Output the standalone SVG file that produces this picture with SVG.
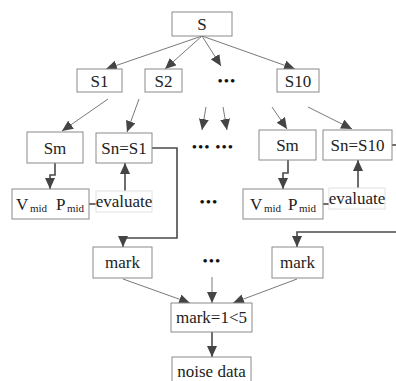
<svg xmlns="http://www.w3.org/2000/svg" width="396" height="381" viewBox="0 0 396 381">
<style>
.b{fill:#fff;stroke:#8a8a8a;stroke-width:1}
.e{fill:#fff;stroke:#e2e2e2;stroke-width:1}
.t{font-family:"Liberation Serif","Times New Roman","DejaVu Serif",serif;font-size:17px;fill:#222;text-anchor:middle}
.v{font-family:"Liberation Serif","Times New Roman","DejaVu Serif",serif;font-size:17px;fill:#222}
.s{font-size:11px}
.d{font-family:"Liberation Serif","DejaVu Serif",serif;font-size:15px;fill:#111;text-anchor:middle;letter-spacing:1px}
.l{fill:none;stroke:#6a6a6a;stroke-width:0.9}
.k{fill:none;stroke:#4a4a4a;stroke-width:1.6}
</style>
<defs>
<marker id="a" markerUnits="userSpaceOnUse" markerWidth="12" markerHeight="10" refX="11" refY="5" orient="auto">
<path d="M0,0 L11,5 L0,10 z" fill="#444"/>
</marker>
</defs>
<rect width="396" height="381" fill="#fff"/>
<g id="connectors">
<line class="l" x1="202" y1="36" x2="106" y2="69" marker-end="url(#a)"/>
<line class="l" x1="202" y1="36" x2="165" y2="69" marker-end="url(#a)"/>
<line class="l" x1="202" y1="36" x2="221" y2="66" marker-end="url(#a)"/>
<line class="l" x1="202" y1="36" x2="295" y2="69" marker-end="url(#a)"/>
<line class="l" x1="108" y1="99" x2="62" y2="131" marker-end="url(#a)"/>
<line class="l" x1="139" y1="99" x2="127" y2="132" marker-end="url(#a)"/>
<line class="l" x1="206" y1="107" x2="202" y2="130" marker-end="url(#a)"/>
<line class="l" x1="223" y1="107" x2="227" y2="130" marker-end="url(#a)"/>
<line class="l" x1="272" y1="107" x2="287" y2="129" marker-end="url(#a)"/>
<line class="l" x1="308" y1="107" x2="352" y2="129" marker-end="url(#a)"/>
<polyline class="k" points="55,163 55,175 50,175 50,189" marker-end="url(#a)"/>
<line class="k" x1="89" y1="204" x2="96" y2="204"/>
<line class="k" x1="125" y1="191" x2="125" y2="163" marker-end="url(#a)"/>
<polyline class="k" points="152,148 177,148 177,238 123,238 123,247" marker-end="url(#a)"/>
<polyline class="k" points="288,160 288,173 283,173 283,189" marker-end="url(#a)"/>
<line class="k" x1="323" y1="204" x2="329" y2="204"/>
<line class="k" x1="358" y1="188" x2="358" y2="160" marker-end="url(#a)"/>
<line class="k" x1="392" y1="145" x2="396" y2="145"/>
<polyline class="k" points="396,232 297,232 297,247" marker-end="url(#a)"/>
<line class="l" x1="123" y1="279" x2="190" y2="303" marker-end="url(#a)"/>
<line class="l" x1="212" y1="277" x2="212" y2="303" marker-end="url(#a)"/>
<line class="l" x1="297" y1="279" x2="233" y2="303" marker-end="url(#a)"/>
<line class="k" x1="212" y1="332" x2="212" y2="357" marker-end="url(#a)"/>
</g>
<g id="S"><rect class="b" x="172" y="12" width="60" height="24"/><text class="t" x="202" y="30">S</text></g>
<g id="S1"><rect class="b" x="77" y="69" width="45" height="23"/><text class="t" x="99.5" y="86.5">S1</text></g>
<g id="S2"><rect class="b" x="145" y="69" width="37" height="23"/><text class="t" x="163.5" y="86.5">S2</text></g>
<g id="dots1"><text class="d" x="227" y="86">•••</text></g>
<g id="S10"><rect class="b" x="277" y="69" width="42" height="23"/><text class="t" x="298" y="86.5">S10</text></g>
<g id="Sm1"><rect class="b" x="27" y="132" width="56" height="31"/><text class="t" x="55" y="153.5">Sm</text></g>
<g id="Sn1"><rect class="b" x="96" y="133" width="56" height="30"/><text class="t" x="124" y="153.5">Sn=S1</text></g>
<g id="dots2"><text class="d" x="213" y="152">••• •••</text></g>
<g id="Sm2"><rect class="b" x="259" y="130" width="57" height="30"/><text class="t" x="287.5" y="151">Sm</text></g>
<g id="Sn10"><rect class="b" x="323" y="130" width="69" height="30"/><text class="t" x="357.5" y="151">Sn=S10</text></g>
<g id="V1"><rect class="b" x="12" y="189" width="77" height="30"/><text class="v" x="16" y="210">V<tspan class="s" x="30" dy="2">mid</tspan><tspan x="56" dy="-2">P</tspan><tspan class="s" x="67" dy="2">mid</tspan></text></g>
<g id="eval1"><rect class="e" x="96" y="191" width="56" height="21"/><text class="t" x="124" y="207">evaluate</text></g>
<g id="dots3"><text class="d" x="209" y="207">•••</text></g>
<g id="V2"><rect class="b" x="243" y="189" width="80" height="30"/><text class="v" x="250" y="210">V<tspan class="s" x="264" dy="2">mid</tspan><tspan x="288" dy="-2">P</tspan><tspan class="s" x="299" dy="2">mid</tspan></text></g>
<g id="eval2"><rect class="e" x="329" y="188" width="56" height="21"/><text class="t" x="357" y="204">evaluate</text></g>
<g id="mark1"><rect class="b" x="93" y="247" width="59" height="31"/><text class="t" x="122.5" y="268">mark</text></g>
<g id="dots4"><text class="d" x="212" y="266">•••</text></g>
<g id="mark2"><rect class="b" x="272" y="247" width="51" height="31"/><text class="t" x="297.5" y="268">mark</text></g>
<g id="cond"><rect class="b" x="171" y="303" width="81" height="29"/><text class="t" x="211.5" y="323">mark=1&lt;5</text></g>
<g id="noise"><rect class="b" x="172" y="357" width="79" height="30"/><text class="t" x="211.5" y="377">noise data</text></g>
</svg>
